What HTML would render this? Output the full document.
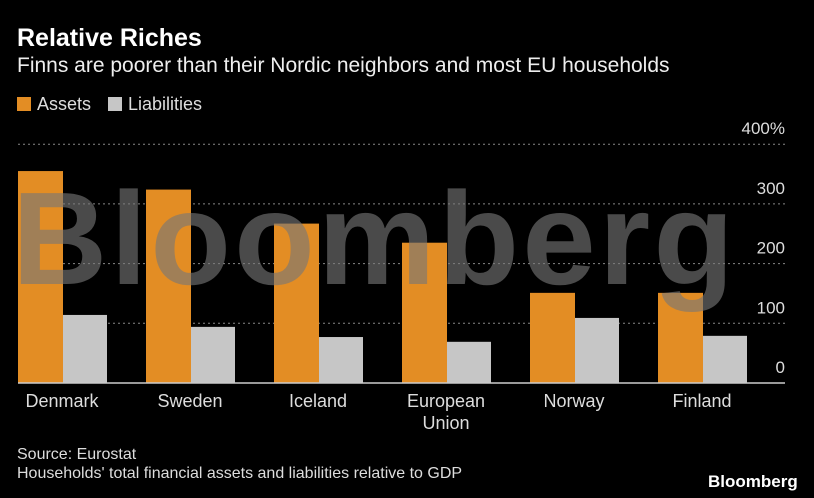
<!DOCTYPE html>
<html><head><meta charset="utf-8"><style>
body{margin:0;background:#000;width:814px;height:498px;overflow:hidden;font-family:"Liberation Sans",sans-serif;color:#fff;position:relative}
.t{position:absolute;white-space:nowrap}
</style></head><body>
<div class="t" style="left:17px;top:24px;font-size:25px;font-weight:bold">Relative Riches</div>
<div class="t" style="left:17px;top:54px;font-size:21px;color:#eee">Finns are poorer than their Nordic neighbors and most EU households</div>
<div class="t" style="left:17px;top:94px;font-size:18px;color:#ddd"><span style="display:inline-block;width:14px;height:14px;background:#e38d24;margin-right:6px;vertical-align:-1px"></span>Assets</div>
<div class="t" style="left:108px;top:94px;font-size:18px;color:#ddd"><span style="display:inline-block;width:14px;height:14px;background:#c6c6c6;margin-right:6px;vertical-align:-1px"></span>Liabilities</div>
<svg id="chart" width="814" height="498" style="position:absolute;left:0;top:0"></svg>
<div class="t" style="left:17px;top:446px;font-size:16px;color:#ddd">Source: Eurostat</div>
<div class="t" style="left:17px;top:465px;font-size:16px;color:#ddd">Households' total financial assets and liabilities relative to GDP</div>
<div class="t" style="left:708px;top:472px;font-size:17px;font-weight:bold">Bloomberg</div>
<script>
const categories=["Denmark","Sweden","Iceland","European\nUnion","Norway","Finland"];
const assets=[355,324,267,235,151,151];
const liabilities=[114,94,77,69,109,79];
const ticks=[0,100,200,300,400];
const svg=document.getElementById('chart');
const NS='http://www.w3.org/2000/svg';
const y0=383,ppu=0.597;
const y=v=>y0-v*ppu;
const gx=i=>18+i*128;
function mk(tag,attrs){const e=document.createElementNS(NS,tag);for(const k in attrs)e.setAttribute(k,attrs[k]);svg.appendChild(e);return e;}
ticks.forEach(t=>{
  if(t>0){const l=mk('line',{x1:18,x2:785,y1:y(t),y2:y(t),stroke:'#888','stroke-dasharray':'2,3','stroke-width':1});
  
  }
  const tx=mk('text',{x:785,y:y(t)-10,'text-anchor':'end',fill:'#ddd','font-size':17,'font-family':'Liberation Sans, sans-serif'});
  tx.textContent=t===400?'400%':String(t);
  
  
});
categories.forEach((c,i)=>{
  const a=mk('rect',{x:gx(i),y:y(assets[i]),width:45,height:assets[i]*ppu,fill:'#e38d24'});
  
  
  const b=mk('rect',{x:gx(i)+45,y:y(liabilities[i]),width:44,height:liabilities[i]*ppu,fill:'#c6c6c6'});
  
  
  const lines=c.split('\n');
  lines.forEach((s,j)=>{
    const t=mk('text',{x:gx(i)+44,y:407+j*22,'text-anchor':'middle',fill:'#ddd','font-size':18,'font-family':'Liberation Sans, sans-serif'});
    t.textContent=s;
    
    
  });
});
const base=mk('line',{x1:18,x2:785,y1:y0,y2:y0,stroke:'#ccc','stroke-width':1.5});


const wm=mk('text',{x:12,y:284,fill:'#777','fill-opacity':0.62,'font-size':132,'font-weight':'bold','font-family':'Liberation Sans, sans-serif','letter-spacing':-4,textLength:718});
wm.textContent='Bloomberg';


</script>
</body></html>
